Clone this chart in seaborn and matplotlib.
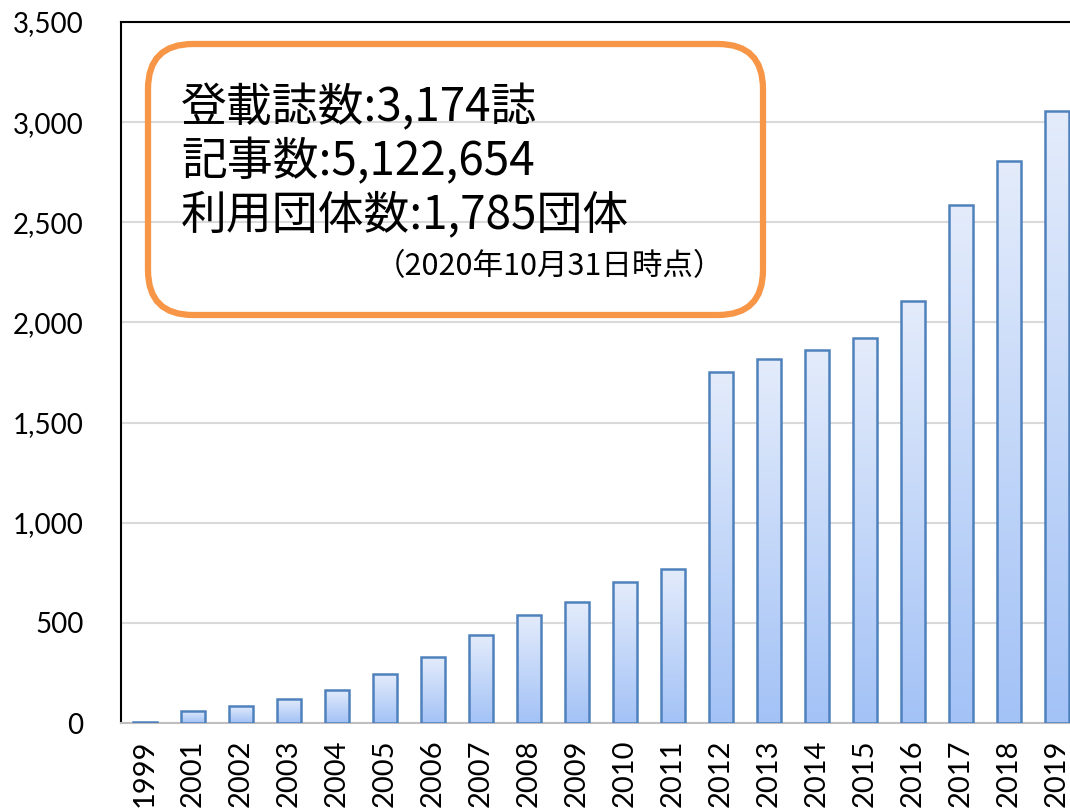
import numpy as np
import pandas as pd
import seaborn as sns
import matplotlib.pyplot as plt
from matplotlib.colors import LinearSegmentedColormap
from matplotlib.patches import FancyBboxPatch

# values
years = ['1999', '2001', '2002', '2003', '2004', '2005', '2006', '2007', '2008', '2009',
         '2010', '2011', '2012', '2013', '2014', '2015', '2016', '2017', '2018', '2019']
counts = [5, 61, 86, 121, 165, 245, 328, 440, 541, 603,
          702, 770, 1751, 1815, 1863, 1920, 2105, 2588, 2808, 3055]
y_ticks = [0, 500, 1000, 1500, 2000, 2500, 3000, 3500]

summary_lines = ['登載誌数:3,174誌', '記事数:5,122,654', '利用団体数:1,785団体']
as_of = '（2020年10月31日時点）'

sns.set_theme(style='white')
plt.rcParams['font.family'] = ['Lato', 'Noto Sans CJK JP', 'DejaVu Sans']

df = pd.DataFrame({'year': years, 'count': counts})

fig = plt.figure(figsize=(10.7, 8.08), dpi=100)
# axes runs past the right edge like the cropped original
ax = fig.add_axes([121 / 1070, 85 / 808, 960 / 1070, 701 / 808])

sns.barplot(data=df, x='year', y='count', order=years, width=0.52,
            color='#C5D8F8', edgecolor='#4F81BD', linewidth=1.8, ax=ax, zorder=3)

# vertical gradient inside each bar
cmap = LinearSegmentedColormap.from_list('bar', ['#A3C2F6', '#E4ECFB'])
grad = np.linspace(0, 1, 256).reshape(-1, 1)
for p in ax.patches:
    x0, y0 = p.get_x(), p.get_y()
    w, h = p.get_width(), p.get_height()
    p.set_facecolor('none')
    im = ax.imshow(grad, extent=[x0, x0 + w, y0, y0 + h], origin='lower',
                   aspect='auto', cmap=cmap, zorder=2.9, interpolation='bilinear')
    im.set_clip_path(p)

ax.set_xlim(-0.5, len(years) - 0.5)
ax.set_ylim(0, 3500)
ax.set_aspect('auto')

ax.set_yticks(y_ticks)
ax.set_yticklabels([f'{v:,}' for v in y_ticks])
ax.yaxis.grid(True, color='#D9D9D9', linewidth=1.5)
ax.set_axisbelow(True)
ax.tick_params(axis='y', length=0, pad=27, labelsize=20, labelcolor='black')
ax.tick_params(axis='x', length=0, pad=12, labelsize=21, labelcolor='black', rotation=90)
ax.set_xlabel('')
ax.set_ylabel('')

for side in ['left', 'top']:
    ax.spines[side].set_color('black')
    ax.spines[side].set_linewidth(1.5)
ax.spines['bottom'].set_color('#BFBFBF')
ax.spines['bottom'].set_linewidth(1.5)
ax.spines['right'].set_visible(False)

# orange summary box
box = FancyBboxPatch((1.48, 4.93), 6.15, 2.71, boxstyle='round,pad=0,rounding_size=0.45',
                     transform=fig.dpi_scale_trans, facecolor='none',
                     edgecolor='#F79646', linewidth=4.5, zorder=5)
fig.patches.append(box)

cjk = ['Noto Sans CJK JP', 'DejaVu Sans']
for i, line in enumerate(summary_lines):
    fig.text(181 / 1070, 1 - (108 + i * 54) / 808, line, fontsize=33,
             family=cjk, ha='left', va='center', color='black')
fig.text(724 / 1070, 1 - 267 / 808, as_of, fontsize=22, family=cjk,
         ha='right', va='center', color='black')

fig.savefig('out.png', dpi=100)
